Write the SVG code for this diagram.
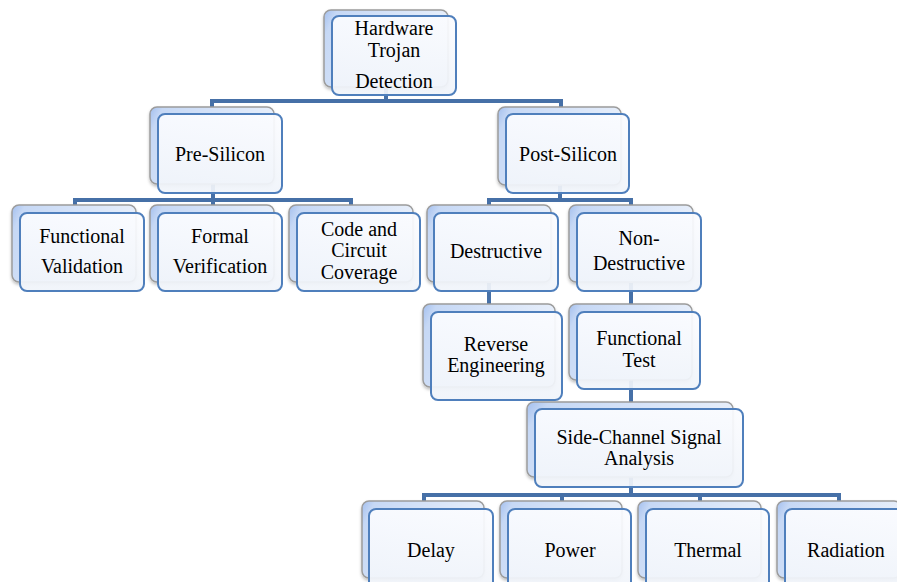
<svg xmlns="http://www.w3.org/2000/svg" width="897" height="582" viewBox="0 0 897 582">
<defs>
<linearGradient id="gBack" x1="0" y1="0" x2="1" y2="0.3">
<stop offset="0" stop-color="#a3bfee"/>
<stop offset="0.1" stop-color="#c6d8f5"/>
<stop offset="1" stop-color="#e9f0fb"/>
</linearGradient>
<linearGradient id="gFront" x1="0" y1="0" x2="0" y2="1">
<stop offset="0" stop-color="#fbfcff"/>
<stop offset="1" stop-color="#f0f4fa"/>
</linearGradient>
<filter id="sh" x="-10%" y="-10%" width="125%" height="130%">
<feDropShadow dx="0" dy="2" stdDeviation="1.5" flood-color="#000" flood-opacity="0.25"/>
</filter>
</defs>
<style>
.back{fill:url(#gBack);stroke:#9c9c9c;stroke-width:1.5;filter:url(#sh)}
.front{fill:url(#gFront);fill-opacity:0.93;stroke:#4f7fbc;stroke-width:2}
.conn{fill:none;stroke:#4670a7;stroke-width:4;stroke-linejoin:miter}
text{font-family:"Liberation Serif","Times New Roman",serif;font-size:20px;fill:#000;text-anchor:middle}
</style>
<rect width="897" height="582" fill="#fff"/>
<g id="connectors">
<path class="conn" d="M386,87 V101 M212,107 V101 H561 V107"/>
<path class="conn" d="M213,184 V200 M75,205 V200 H351 V205 M213,200 V205"/>
<path class="conn" d="M560,185 V200 M489,205 V200 H631 V205"/>
<path class="conn" d="M489,283 V304"/>
<path class="conn" d="M631,283 V304"/>
<path class="conn" d="M631,380 V402"/>
<path class="conn" d="M631,477 V495 M424,501 V495 H839 V501 M562,495 V501 M700,495 V501"/>
</g>
<g id="n-hardware">
<rect class="back" x="324" y="10" width="124" height="77" rx="7"/>
<rect class="front" x="332" y="16" width="124" height="79" rx="7"/>
<text x="394" y="35">Hardware</text><text x="394" y="57">Trojan</text><text x="394" y="88">Detection</text>
</g>
<g id="n-pre">
<rect class="back" x="150" y="107" width="124" height="77" rx="7"/>
<rect class="front" x="158" y="114" width="124" height="79" rx="7"/>
<text x="220" y="161">Pre-Silicon</text>
</g>
<g id="n-post">
<rect class="back" x="498" y="107" width="123" height="78" rx="7"/>
<rect class="front" x="506" y="114" width="123" height="79" rx="7"/>
<text x="568" y="161">Post-Silicon</text>
</g>
<g id="n-funcval">
<rect class="back" x="12" y="205" width="124" height="77" rx="7"/>
<rect class="front" x="20" y="213" width="124" height="78" rx="7"/>
<text x="82" y="243">Functional</text><text x="82" y="273">Validation</text>
</g>
<g id="n-formal">
<rect class="back" x="150" y="205" width="124" height="77" rx="7"/>
<rect class="front" x="158" y="213" width="124" height="78" rx="7"/>
<text x="220" y="243">Formal</text><text x="220" y="273">Verification</text>
</g>
<g id="n-code">
<rect class="back" x="289" y="205" width="124" height="77" rx="7"/>
<rect class="front" x="297" y="213" width="123" height="78" rx="7"/>
<text x="359" y="236">Code and</text><text x="359" y="257">Circuit</text><text x="359" y="279">Coverage</text>
</g>
<g id="n-destructive">
<rect class="back" x="427" y="205" width="124" height="77" rx="7"/>
<rect class="front" x="434" y="213" width="124" height="78" rx="7"/>
<text x="496" y="258">Destructive</text>
</g>
<g id="n-nondestructive">
<rect class="back" x="569" y="205" width="124" height="77" rx="7"/>
<rect class="front" x="577" y="213" width="124" height="78" rx="7"/>
<text x="639" y="245">Non-</text><text x="639" y="270">Destructive</text>
</g>
<g id="n-reverse">
<rect class="back" x="423" y="304" width="132" height="83" rx="7"/>
<rect class="front" x="431" y="312" width="131" height="88" rx="7"/>
<text x="496" y="351">Reverse</text><text x="496" y="372">Engineering</text>
</g>
<g id="n-functest">
<rect class="back" x="569" y="304" width="123" height="76" rx="7"/>
<rect class="front" x="577" y="312" width="123" height="77" rx="7"/>
<text x="639" y="345">Functional</text><text x="639" y="367">Test</text>
</g>
<g id="n-sidechannel">
<rect class="back" x="527" y="402" width="206" height="75" rx="7"/>
<rect class="front" x="535" y="409" width="208" height="78" rx="7"/>
<text x="639" y="444">Side-Channel Signal</text><text x="639" y="465">Analysis</text>
</g>
<g id="n-delay">
<rect class="back" x="362" y="501" width="122" height="77" rx="7"/>
<rect class="front" x="369" y="509" width="124" height="80" rx="7"/>
<text x="431" y="557">Delay</text>
</g>
<g id="n-power">
<rect class="back" x="500" y="501" width="122" height="77" rx="7"/>
<rect class="front" x="508" y="509" width="123" height="80" rx="7"/>
<text x="570" y="557">Power</text>
</g>
<g id="n-thermal">
<rect class="back" x="638" y="501" width="123" height="77" rx="7"/>
<rect class="front" x="646" y="509" width="123" height="80" rx="7"/>
<text x="708" y="557">Thermal</text>
</g>
<g id="n-radiation">
<rect class="back" x="777" y="501" width="124" height="77" rx="7"/>
<rect class="front" x="785" y="509" width="124" height="80" rx="7"/>
<text x="846" y="557">Radiation</text>
</g>
</svg>
